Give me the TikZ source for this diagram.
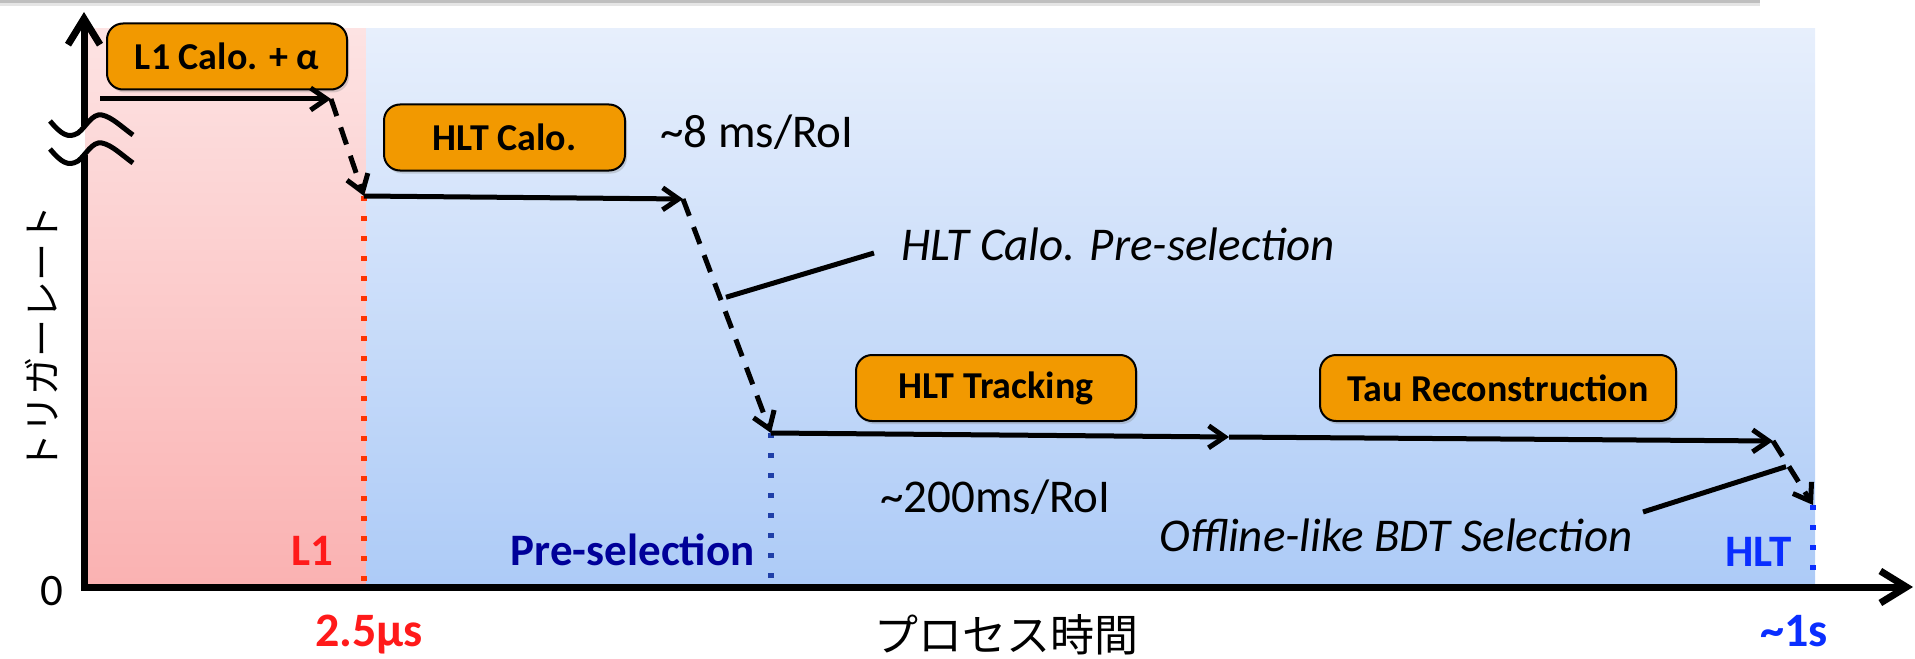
\documentclass[tikz,border=0pt]{standalone}
\usepackage{fontspec}
\setmainfont{Carlito}
\newfontfamily\jpfont{Noto Sans CJK JP}
\usepackage{xcolor}
\usepackage{tikz}
\usetikzlibrary{calc, positioning, arrows.meta, shadows}

\definecolor{boxorange}{HTML}{F29900}
\definecolor{pinktop}{HTML}{FDE3E3}
\definecolor{pinkbot}{HTML}{FAB2B2}
\definecolor{bluetop}{HTML}{E7EFFC}
\definecolor{bluebot}{HTML}{ADCBF7}
\definecolor{lonered}{HTML}{FF1A1A}
\definecolor{cutred}{HTML}{FF3300}
\definecolor{presnavy}{HTML}{000099}
\definecolor{cutnavy}{HTML}{1F3FA8}
\definecolor{hltblue}{HTML}{0A2EFF}

\begin{document}
\begin{tikzpicture}[x=0.5pt, y=-0.5pt,
    stagebox/.style={draw=black, line width=1pt, fill=boxorange, rounded corners=8pt,
        font=\fontsize{19}{21}\selectfont\bfseries, minimum height=33pt, inner sep=0pt,
        drop shadow={opacity=0.3, shadow xshift=1pt, shadow yshift=-1.5pt}},
    flow/.style={line width=2.5pt, -{Straight Barb[length=8pt, width=11pt]}},
    drop/.style={flow, dash pattern=on 9pt off 6pt},
    axis/.style={line width=3.5pt, -{Straight Barb[length=13pt, width=16pt]}},
    cut/.style={line width=2.6pt, dash pattern=on 2.6pt off 7.4pt},
    breakmark/.style={line width=2.5pt},
    note/.style={font=\fontsize{23.5}{26}\selectfont, inner sep=0pt},
    noteit/.style={font=\fontsize{23.5}{26}\selectfont\itshape, inner sep=0pt},
    tag/.style={font=\fontsize{22.5}{25}\selectfont\bfseries, inner sep=0pt},
    timetag/.style={font=\fontsize{24}{26}\selectfont\bfseries, inner sep=0pt, anchor=base},
]
    \useasboundingbox (0,0) rectangle (1915,658);

    % shadow strip along the top
    \fill[gray!50] (0,0) rectangle (1760,3);
    \fill[gray!20] (0,3) rectangle (1760,6);

    % L1 and HLT regions
    \shade[top color=pinktop, bottom color=pinkbot] (85,29) rectangle (366,583);
    \shade[top color=bluetop, bottom color=bluebot] (366,29) rectangle (1815,583);

    % corners of the rate steps
    \coordinate (base) at (0,583);
    \coordinate (l1a) at (100,99);
    \coordinate (l1b) at (331,99);
    \coordinate (caloa) at (364,196);
    \coordinate (calob) at (683,199);
    \coordinate (trka) at (771,433);
    \coordinate (trkm) at (1229,437);
    \coordinate (trkb) at (1773,441);
    \coordinate (hltend) at (1813,505);

    % dotted cut lines
    \draw[cut, draw=cutred] (caloa) -- (caloa |- base);
    \draw[cut, draw=cutnavy] (trka) -- (trka |- base);
    \draw[cut, draw=hltblue] (hltend) -- (hltend |- base);

    % axes with the break on the rate axis
    \coordinate (origin) at (84,587);
    \coordinate (xtip) at (1913,587);
    \coordinate (ytip) at (84,12);
    \coordinate (brk1) at (84,126);
    \coordinate (brk2) at (84,155);
    \draw[axis] (brk2) -- (origin) -- (xtip);
    \draw[axis] (brk1) -- (ytip);
    \foreach \dy in {0,28}
        \draw[breakmark, shift={(0,\dy)}] (50,121) .. controls (61,134) and (68,139) .. (78,133)
            .. controls (86,127) and (92,113) .. (102,115) .. controls (112,117) and (123,128) .. (133,135);

    % algorithm boxes
    \node[stagebox, minimum width=120pt] (l1box) at (227,56.5) {L1 Calo. + α};
    \node[stagebox, minimum width=120.5pt] (calobox) at (504.5,137.5) {HLT Calo.};
    \node[stagebox, minimum width=140pt] (trkbox) at (996,388) {HLT Tracking};
    \node[stagebox, minimum width=178pt] (taubox) at (1498,388) {Tau Reconstruction};

    % rate steps
    \draw[flow] (l1a) -- (l1b);
    \draw[drop] (l1b) -- (caloa);
    \draw[flow] (caloa) -- (calob);
    \draw[drop] (calob) -- (trka);
    \draw[flow] (trka) -- (trkm);
    \draw[flow] (trkm) -- (trkb);
    \draw[drop] (trkb) -- (hltend);

    % timing and selection notes
    \node[note, anchor=base west] (calotime) at (660,148) {\textasciitilde 8 ms/RoI};
    \node[noteit, anchor=base west] (caloseltext) at (901,260) {HLT Calo. Pre-selection};
    \node[note, anchor=base west] (trktime) at (880,512) {\textasciitilde 200ms/RoI};
    \node[noteit, anchor=base west] (bdttext) at (1159,551) {Offline-like BDT Selection};
    \coordinate (calocut) at ($(calob)!0.42!(trka)+(6,0)$);
    \coordinate (calonote) at (874,253);
    \draw[line width=2.5pt] (calocut) -- (calonote);
    \coordinate (bdtcut) at ($(trkb)!0.4!(hltend)+(-3,0)$);
    \coordinate (bdtnote) at (1643,512);
    \draw[line width=2.5pt] (bdtnote) -- (bdtcut);

    % trigger level tags
    \node[tag, text=lonered, anchor=base east] (l1tag) at (334,565) {L1};
    \node[tag, text=presnavy, anchor=base east] (pretag) at (755,565) {Pre-selection};
    \node[tag, text=hltblue, anchor=base east] (hlttag) at (1792,566) {HLT};

    % axis labels
    \node[timetag, text=lonered] (l1time) at (369,646) {2.5µs};
    \node[timetag, text=hltblue] (hlttime) at (1794,646) {\textasciitilde 1s};
    \node[font=\jpfont\fontsize{22}{24}\selectfont, inner sep=0pt] (xlabel) at (1006,635) {プロセス時間};
    \node[font=\jpfont\fontsize{19}{21}\selectfont, inner sep=0pt, rotate=90] (ylabel) at (42,338) {トリガーレート};
    \node[note, font=\fontsize{22.5}{25}\selectfont] (zero) at (52,591) {0};
\end{tikzpicture}
\end{document}
